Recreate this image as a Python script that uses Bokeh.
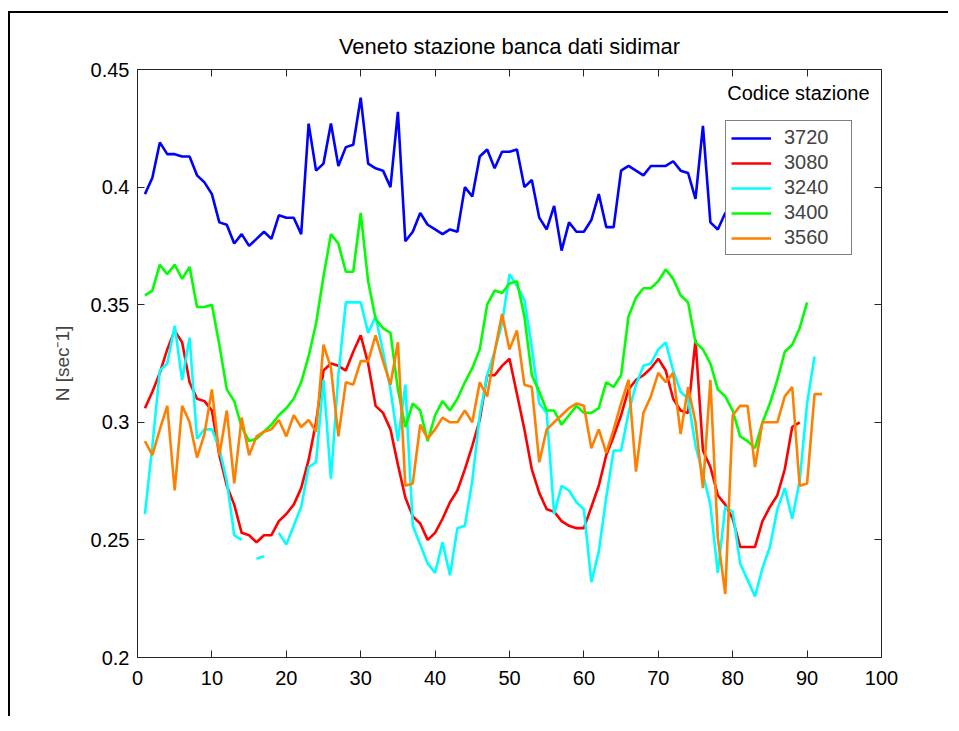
import numpy as np
from bokeh.plotting import figure
from bokeh.models import LinearAxis, FixedTicker, Legend, LegendItem, Label, Range1d
from bokeh.embed import file_html
from bokeh.resources import INLINE

title_text = "Veneto stazione banca dati sidimar"
y_label = "N [sec\u207b1]"
legend_title = "Codice stazione"
station_codes = ["3720", "3080", "3240", "3400", "3560"]
station_colors = ["#0000FF", "#FF0000", "#00FFFF", "#00FF00", "#FF8000"]

x_ticks = [0, 10, 20, 30, 40, 50, 60, 70, 80, 90, 100]
y_ticks = [0.2, 0.25, 0.3, 0.35, 0.4, 0.45]
y_tick_labels = ["0.2", "0.25", "0.3", "0.35", "0.4", "0.45"]

s3720 = [0.397, 0.404, 0.419, 0.414, 0.414, 0.413, 0.413, 0.405, 0.402, 0.397,
         0.385, 0.384, 0.376, 0.380, 0.375, 0.378, 0.381, 0.378, 0.388, 0.387,
         0.387, 0.380, 0.427, 0.407, 0.410, 0.427, 0.409, 0.417, 0.418, 0.438,
         0.410, 0.408, 0.407, 0.400, 0.432, 0.377, 0.381, 0.389, 0.384, 0.382,
         0.380, 0.382, 0.381, 0.400, 0.396, 0.413, 0.416, 0.408, 0.415, 0.415,
         0.416, 0.400, 0.403, 0.387, 0.382, 0.392, 0.373, 0.385, 0.381, 0.381,
         0.386, 0.397, 0.383, 0.383, 0.407, 0.409, 0.407, 0.405, 0.409, 0.409,
         0.409, 0.411, 0.407, 0.406, 0.395, 0.426, 0.385, 0.382, 0.389, 0.390]

s3080 = [0.306, 0.313, 0.321, 0.331, 0.339, 0.334, 0.317, 0.310, 0.309, 0.305,
         0.286, 0.273, 0.265, 0.253, 0.252, 0.249, 0.252, 0.252, 0.258, 0.261,
         0.265, 0.272, 0.284, 0.300, 0.322, 0.325, 0.324, 0.322, 0.330, 0.337,
         0.325, 0.307, 0.304, 0.297, 0.282, 0.268, 0.260, 0.257, 0.250, 0.253,
         0.259, 0.266, 0.271, 0.280, 0.290, 0.301, 0.320, 0.320, 0.324, 0.327,
         0.312, 0.297, 0.280, 0.270, 0.263, 0.262, 0.258, 0.256, 0.255, 0.255,
         0.264, 0.273, 0.286, 0.294, 0.303, 0.314, 0.318, 0.320, 0.323, 0.327,
         0.322, 0.310, 0.305, 0.304, 0.335, 0.288, 0.281, 0.269, 0.265, 0.259,
         0.247, 0.247, 0.247, 0.258, 0.264, 0.269, 0.280, 0.298, 0.300]

nan = float("nan")
s3240 = [0.261, 0.290, 0.322, 0.325, 0.341, 0.318, 0.336, 0.293, 0.297, 0.297,
         0.289, 0.275, 0.252, 0.250, nan, 0.242, 0.243, nan, 0.253, 0.248,
         0.256, 0.264, 0.281, 0.283, 0.318, 0.276, 0.320, 0.351, 0.351, 0.351,
         0.338, 0.345, 0.330, 0.314, 0.292, 0.316, 0.256, 0.248, 0.240, 0.236,
         0.249, 0.235, 0.255, 0.256, 0.275, 0.303, 0.320, 0.330, 0.342, 0.363,
         0.358, 0.352, 0.332, 0.308, 0.304, 0.261, 0.273, 0.271, 0.266, 0.263,
         0.232, 0.245, 0.268, 0.288, 0.288, 0.304, 0.316, 0.324, 0.325, 0.331,
         0.334, 0.322, 0.313, 0.310, 0.290, 0.278, 0.265, 0.236, 0.264, 0.262,
         0.240, 0.233, 0.226, 0.238, 0.247, 0.263, 0.272, 0.259, 0.275, 0.308,
         0.328]

s3400 = [0.354, 0.356, 0.367, 0.363, 0.367, 0.361, 0.366, 0.349, 0.349, 0.350,
         0.333, 0.314, 0.309, 0.298, 0.292, 0.293, 0.296, 0.299, 0.303, 0.306,
         0.310, 0.317, 0.328, 0.342, 0.362, 0.380, 0.376, 0.364, 0.364, 0.389,
         0.360, 0.344, 0.340, 0.338, 0.314, 0.298, 0.308, 0.305, 0.292, 0.303,
         0.309, 0.305, 0.310, 0.317, 0.323, 0.331, 0.350, 0.356, 0.355, 0.359,
         0.360, 0.345, 0.320, 0.313, 0.305, 0.305, 0.299, 0.303, 0.307, 0.304,
         0.304, 0.306, 0.317, 0.315, 0.320, 0.345, 0.353, 0.357, 0.357, 0.360,
         0.365, 0.361, 0.354, 0.351, 0.334, 0.331, 0.325, 0.314, 0.311, 0.305,
         0.294, 0.292, 0.289, 0.300, 0.308, 0.318, 0.330, 0.333, 0.340, 0.351]

s3560 = [0.292, 0.286, 0.297, 0.307, 0.271, 0.307, 0.300, 0.285, 0.295, 0.314,
         0.286, 0.305, 0.274, 0.302, 0.286, 0.294, 0.296, 0.297, 0.301, 0.294,
         0.303, 0.298, 0.301, 0.296, 0.333, 0.323, 0.294, 0.317, 0.316, 0.326,
         0.326, 0.337, 0.326, 0.316, 0.334, 0.273, 0.274, 0.299, 0.293, 0.297,
         0.302, 0.300, 0.300, 0.305, 0.300, 0.317, 0.311, 0.330, 0.346, 0.331,
         0.339, 0.316, 0.315, 0.283, 0.297, 0.300, 0.303, 0.306, 0.308, 0.307,
         0.289, 0.297, 0.287, 0.297, 0.308, 0.318, 0.279, 0.304, 0.311, 0.321,
         0.317, 0.321, 0.295, 0.315, 0.300, 0.272, 0.318, 0.251, 0.227, 0.303,
         0.307, 0.307, 0.281, 0.300, 0.300, 0.300, 0.311, 0.315, 0.273, 0.274,
         0.312, 0.312]

series = [s3720, s3080, s3240, s3400, s3560]

FONT = "Liberation Sans"
AXIS_COLOR = "#262626"

p = figure(width=940, height=705, output_backend="svg", toolbar_location=None,
           x_range=Range1d(0, 100), y_range=Range1d(0.2, 0.45),
           min_border_left=127, min_border_right=69, min_border_top=56,
           min_border_bottom=61, background_fill_color="white",
           border_fill_color="white")
p.styles = {"border-left": "2px solid black", "border-top": "2px solid black",
            "translate": "8px 11px"}
p.outline_line_color = None
p.grid.visible = False

p.title.text = title_text
p.title.align = "center"
p.title.text_font = FONT
p.title.text_font_size = "22px"
p.title.text_font_style = "normal"
p.title.text_color = "black"
p.title.standoff = 21

def style_axis(ax, labels=True):
    ax.axis_line_color = AXIS_COLOR
    ax.axis_line_width = 1
    ax.major_tick_line_color = AXIS_COLOR
    ax.major_tick_in = 7
    ax.major_tick_out = 0
    ax.minor_tick_line_color = None
    ax.major_label_text_font = FONT
    ax.major_label_text_color = "black"
    if labels:
        ax.major_label_text_font_size = "20px"
        ax.major_label_standoff = 8
    else:
        ax.major_label_text_font_size = "0px"
        ax.major_label_standoff = 0

p.xaxis.ticker = FixedTicker(ticks=x_ticks)
p.yaxis.ticker = FixedTicker(ticks=y_ticks)
p.yaxis.major_label_overrides = {t: l for t, l in zip(y_ticks, y_tick_labels)}
style_axis(p.xaxis[0])
style_axis(p.yaxis[0])
p.xaxis.major_label_standoff = 13
p.yaxis.axis_label = y_label
p.yaxis.axis_label_text_font = FONT
p.yaxis.axis_label_text_font_size = "19px"
p.yaxis.axis_label_text_font_style = "normal"
p.yaxis.axis_label_standoff = 15

top_axis = LinearAxis(ticker=FixedTicker(ticks=x_ticks))
style_axis(top_axis, labels=False)
p.add_layout(top_axis, "above")
right_axis = LinearAxis(ticker=FixedTicker(ticks=y_ticks))
style_axis(right_axis, labels=False)
p.add_layout(right_axis, "right")

items = []
for code, color, vals in zip(station_codes, station_colors, series):
    xs = np.arange(1, len(vals) + 1)
    r = p.line(xs, np.array(vals, dtype=float), line_color=color, line_width=2.6)
    items.append(LegendItem(label=code, renderers=[r]))

legend = Legend(items=items, location=(588, 402))
legend.border_line_color = "black"
legend.border_line_width = 1
legend.background_fill_color = "white"
legend.background_fill_alpha = 1.0
legend.label_text_font = FONT
legend.label_text_font_size = "20px"
legend.glyph_width = 40
legend.glyph_height = 20
legend.label_height = 20
legend.label_standoff = 13
legend.label_width = 62
legend.padding = 5
legend.spacing = 2
legend.margin = 0
p.add_layout(legend)

p.add_layout(Label(x=98.4, y=0.4402, text=legend_title, text_align="right",
                   text_baseline="middle", text_font=FONT,
                   text_font_size="20px", text_color="black"))

open("out.html", "w").write(file_html(p, INLINE))
